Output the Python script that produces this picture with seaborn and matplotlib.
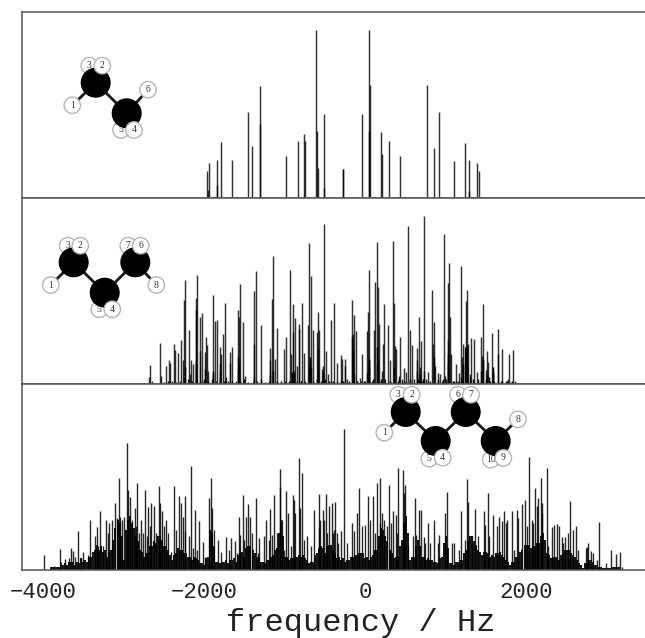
import numpy as np
import pandas as pd
import matplotlib
matplotlib.use("Agg")
import matplotlib.pyplot as plt
import seaborn as sns

# ---- spectrum of the C2 chain (Hz, relative intensity)
c2_freq = [-1962,-1955,-1937,-1842,-1838,-1788,-1656,-1462,-1408,-1313,-1312,-983,-838,-756,-752,-611,-594,-590,-508,-508,-272,-271,-41,50,58,46,194,207,289,434,768,855,909,1103,1239,1285,1290,1384,1409]
c2_int = [16,5,21,22.5,7.5,33.4,22.5,51,31,66.6,44,25,34,38,34,100,40,18,50,6,17.5,17,50,100,67,40,39,26,34,25,67,30,51,22,33,22.5,4,21,16]

# ---- spectrum of the C3 chain
c3_freq = [-2900,-2668,-2681,-2644,-2545,-2532,-2470,-2441,-2429,-2375,-2367,-2321,-2293,-2264,-2251,-2235,-2193,-2181,-2160,-2136,-2107,-2098,-2090,-2053,-2057,-2028,-1987,-1975,-1962,-1950,-1888,-1884,-1867,-1842,-1809,-1801,-1789,-1768,-1739,-1727,-1685,-1673,-1652,-1578,-1578,-1562,-1553,-1524,-1491,-1384,-1376,-1355,-1293,-1186,-1178,-1157,-1144,-1116,-1095,-1012,-983,-934,-921,-897,-893,-872,-847,-826,-818,-781,-756,-711,-694,-682,-670,-653,-603,-583,-570,-587,-541,-525,-517,-488,-467,
-426,-385,-352,-302,-290,-256,-248,-228,-162,-153,-145,-116,-137,-42,-62,24,33,49,41,20,103,123,144,156,165,202,214,227,280,301,342,351,371,384,417,433,483,499,524,549,582,640,636,669,677,693,722,731,776,830,838,850,859,896,921,970,983,1020,1032,1024,1053,1065,1123,1156,1189,1201,1210,1243,1259,1251,1276,1300,1309,1354,1383,1437,1457,1449,1507,1495,1519,1573,1581,1643,1651,1693,1767,1780,1829,1862]
c3_int = [0.8,11.5,4,2,24.4,4.8,10.7,14.5,12.5,24,20,18.6,26,14.5,50,61.6,32.3,6,14,12,51,44,65,40,19.4,42,19,28,23,8,6,52.7,37.5,38,22,12,18,30,48,4,12.5,19,22,44,8,40,59.6,37,5,24,55.6,67,35,14.5,21.4,50.7,76,15,33.5,20.6,28,68,17.6,31,47.7,39,10.5,33,36,48,18.4,35,84,13,64,32,31,43,32,21,9,11,95.4,19.4,6,
38,48,12.5,17,15,15,11,3,50,30,41,31.5,6,18,3.6,31.5,43,67.6,15,6.7,32,61,84.5,57.7,35.5,8,24,47.4,35,14,85,48,22.4,20.6,5,28,9.7,7,94,32,23.4,21.6,14,40,10,25.6,100,8,7,55.7,23.6,37,11,6.5,5.7,89.5,5,60,72,26,40,17.6,12,6.5,70,16,24,49.4,55.7,20,23.6,6,27.6,27,7,28,47.8,16.7,19.4,8.5,13,30.5,8,32.5,17.6,20.6,3,18,20,2]
c3_dense_freq = [-2240,-2105,-2095,-1990,-1890,-1800,-1575,-1565,-1385,-1180,-1145,-915,-890,-700,-690,-680,-590,-530,-160,-155,40,45,140,150,160,350,640,680,850,1020,1028,1190,1210,1240,1250,1258,1265,1440,1460,1510,1580,1590,-2440,-2000,-1740,-1500,-1300,-1050,-800,-600,-420,-280,-100,-20,80,200,300,420,480,560,720,780,900,960,1090,1130,1330,1400,1540,1680,1760,1820]
c3_dense_int = [10,12,14,9,8,7,16,12,4,6,8,7,8,12,16,10,9,7,28,20,14,10,12,22,14,10,8,6,16,18,12,4,12,22,22,22,14,8,14,6,10,6,2,2,2,2,3,2,2,3,2,2,2,2,2,3,2,3,2,3,3,2,3,3,2,2,3,2,4,2,2,2]
c3_base_freq = [-2500,-2450,-2400,-2350,-2300,-2250,-2200,-2150,-2100,-2050,-2000,-1950,-1900,-1850,-1800,-1750,-1700,-1650,-1600,-1550,-1500,-1450,-1400,-1350,-1300,-1250,-1200,-1150,-1100,-1050,-1000,-950,-900,-850,-800,-750,-700,-650,-600,-550,-500,-450,-400,-350,-300,-250,-200,-150,-100,-50,0,50,100,150,200,250,300,350,400,450,500,550,600,650,700,750,800,850,900,950,1000,1050,1100,1150,1200,1250,1300,1350,1400,1450,1500,1550,1600,1650,1700,1750,1800]
c3_base_int = [1,1.5,2,1,2,2,3,2,3,2,3,2,3,2,3,2,2,1.5,2,2,3,1,1,2,1,1,2,1.5,2,1,2,2,3,2,2,2,2,2,3,2,3,1.5,2,2,1.5,2,2,3,2,2,1.5,3,3,2,2,3,2,1.5,2,3,2,2,3,3,2,3,2,3,2,2,3,2,2,2,3,3,4,2,3,2,3,2,2,2,1.5,1.5,1]

# ---- spectrum of the C4 chain
c4_freq = [-3990,-3788,-3722,-3651,-3631,-3569,-3499,-3416,-3329,-3288,-3218,-3176,-3106,-3061,-3044,-2995,-2958,-2916,-2863,-2834,-2788,-2730,-2693,-2660,-2627,-2565,-2520,-2470,-2371,-2309,-2264,-2235,-2160,-2115,-2070,-2020,-1942,-1921,-1826,-1727,-1669,-1619,-1562,-1520,-1483,-1458,-1425,-1355,-1322,-1260,-1227,-1182,-1136,-1062,-1054,-984,-963,-901,-880,-826,-785,-723,-641,-575,-566,-525,-488,-455,-413,-372,
-298,-261,-166,-104,-75,33,91,144,185,206,289,338,375,404,466,495,611,660,689,722,776,846,916,1012,1073,1181,1259,1280,1362,1474,1519,1590,1660,1722,1755,1817,1879,1941,1982,2032,2065,2110,2147,2176,2197,2250,2312,2374,2436,2482,2544,2610,2643,2746,2767,2796,2895,2986,3044,3110,3155,3180]
c4_int = [8.9,12.3,6.3,12.9,11.5,23.4,10.5,29.7,25.3,35,30,27.7,39.6,54.6,31.7,31.7,75.8,43.6,37,52,29.7,47.7,37.6,39.6,38,50,35,29.7,49.7,43.8,31.7,44,61.6,36,29.3,16.8,43,54.6,17.8,19.8,18.8,17.4,31.7,44.7,31.7,39.2,31.7,43,18.8,20.4,30,36.6,44.7,60.4,49.5,47.3,34,44.7,41.6,66.5,58,20,36,45,30,36,45,38,39.6,40.4,
23.4,84,28,33.7,48.7,44,44,52,55,33.7,50.7,35,33,61,59.6,50.5,42.6,35.6,36,19.4,27.7,29.7,20.8,46.7,16,35,53.9,40.6,36.4,35,46,33,31.7,35,29.7,35,36,39,41.6,67,29.7,48.7,42.6,55,39.6,60.6,25.7,27.3,19.8,19.8,41,26,12,13.5,15.8,11.5,28.7,4.4,12,9.5,11,2]
c4_mid_freq = [-3862,-3771,-3676,-3602,-3532,-3441,-3358,-3317,-3251,-3193,-3139,-3086,-3015,-2945,-2891,-2850,-2809,-2755,-2714,-2673,-2602,-2549,-2499,-2449,-2417,-2346,-2293,-2243,-2190,-2140,-2094,-1991,-1908,-1880,-1785,-1694,-1590,-1549,-1500,-1405,-1334,-1198,-1157,-1095,-1033,-1012,-922,-868,-806,-764,-674,-579,-517,-475,-401,-351,
-393,-343,-227,-137,-42,0,62,115,177,227,268,318,392,483,528,590,627,735,805,896,991,1102,1156,1239,1321,1404,1486,1540,1631,1693,1747,1846,1899,2003,2085,2127,2188,2271,2341,2403,2457,2511,2581,2697,2738,2829,2870]
c4_mid_int = [2.4,5,7,8,7,9,20,14,14,22,30,31,30,47.5,30,26,22,22,20,26,22,40,26,22,11,24,40,23,20,13,12,8,37,24,11,12,10,21,18,22,10,18,21,22,30,12,14,34,37,18,14,25,30,22,22,22,
24,16,16,23,26,27,30,22,28,30,26,28,22,46,15,20,21,16,16,16,34,16,12,18,20,20,27,20,26,29,28,12,31,26,28,38,34,14,27,26,16,22,24,1,13,10,6]
c4_grass_freq = [-3900,-3850,-3800,-3750,-3700,-3650,-3600,-3550,-3500,-3450,-3400,-3350,-3300,-3250,-3200,-3150,-3100,-3050,-3000,-2950,-2900,-2850,-2800,-2750,-2700,-2650,-2600,-2550,-2500,-2450,-2400,-2350,-2300,-2250,-2200,-2150,-2100,-2050,-2000,-1950,-1900,-1850,-1800,-1750,-1700,-1650,-1600,-1550,-1500,-1450,-1400,-1350,-1300,-1250,-1200,-1150,-1100,-1050,-1000,-950,-900,-850,-800,-750,-700,-650,-600,-550,-500,-450,-400,-350,-300,-250,-200,-150,-100,-50,0,50,100,150,200,250,300,350,400,450,500,550,600,650,700,750,800,850,900,950,1000,1050,1100,1150,1200,1250,1300,1350,1400,1450,1500,1550,1600,1650,1700,1750,1800,1850,1900,1950,2000,2050,2100,2150,2200,2250,2300,2350,2400,2450,2500,2550,2600,2650,2700,2750,2800,2850,2900,2950,3000,3050,3100,3150]
c4_grass_int = [1.5,1.5,2,3,3,5,3,4,5,5,8,12,12,11,8,12,25,28,6,30,28,20,12,8,10,14,16,20,14,12,6,10,12,10,8,6,7,4,3,8,22,5,4,5,4,6,5,10,8,14,12,8,5,4,6,9,13,30,8,6,7,8,8,7,4,5,10,14,10,15,12,7,6,5,6,8,9,10,7,6,9,12,25,20,12,7,8,18,32,6,8,18,8,6,6,5,4,8,20,4,3,5,6,12,20,17,12,9,11,8,8,10,9,6,3,5,8,12,15,13,14,16,22,10,7,8,6,10,12,10,8,4,1,5,6,3,2,1,1,1,2,2]
c4_fine_freq = [-3875,-3825,-3775,-3725,-3675,-3625,-3575,-3525,-3475,-3425,-3375,-3325,-3275,-3225,-3175,-3125,-3075,-3025,-2975,-2925,-2875,-2825,-2775,-2725,-2675,-2625,-2575,-2525,-2475,-2425,-2375,-2325,-2275,-2225,-2175,-2125,-2075,-2025,-1975,-1925,-1875,-1825,-1775,-1725,-1675,-1625,-1575,-1525,-1475,-1425,-1375,-1325,-1275,-1225,-1175,-1125,-1075,-1025,-975,-925,-875,-825,-775,-725,-675,-625,-575,-525,-475,-425,-375,-325,-275,-225,-175,-125,-75,-25,25,75,125,175,225,275,325,375,425,475,525,575,625,675,725,775,825,875,925,975,1025,1075,1125,1175,1225,1275,1325,1375,1425,1475,1525,1575,1625,1675,1725,1775,1825,1875,1925,1975,2025,2075,2125,2175,2225,2275,2325,2375,2425,2475,2525,2575,2625,2675,2725,2775,2825,2875,2925,2975,3025,3075,3125]
c4_fine_int = [2,2,3,4,5,5,5,7,6,8,11,15,14,12,11,18,30,20,24,32,25,17,11,10,14,17,20,18,14,9,9,13,12,10,8,8,6,4,7,24,14,5,5,6,6,7,9,11,13,14,10,7,5,6,8,12,22,20,8,7,8,9,9,6,5,9,13,13,14,15,10,8,7,6,8,9,10,10,8,8,12,20,24,17,10,8,14,28,22,8,14,14,8,7,6,5,7,16,13,4,5,6,10,17,20,15,11,11,10,9,10,11,8,5,5,8,11,15,15,14,16,20,18,9,8,8,9,12,12,9,6,3,4,6,5,3,2,1,1,2,2]

tick_vals = [-4000, -2000, 0, 2000]
tick_labels = ["\u22124000", "\u22122000", "0", "2000"]
x_title = "frequency / Hz"

# ---- molecule sketches (carbon, hydrogen label)
mol1_c = [(95.7,82.7),(126.7,113.3)]
mol1_h = [("3",89.3,65.7,0),("2",102.3,65.7,1),("1",72.3,105.3,0),("6",148,89.7,1),("5",121,130,0),("4",134,130,1)]
mol2_c = [(73.7,262.3),(104.7,292.7),(135.3,262.3)]
mol2_h = [("3",67.7,245.7,0),("2",80.3,245.7,1),("1",50.7,285,0),("7",128.3,245.7,0),("6",140.7,245.7,1),("8",156.3,285,1),("5",99.3,309.3,0),("4",112.3,309.3,1)]
mol3_c = [(405.7,412),(435.7,441),(465.7,412),(495.7,441)]
mol3_h = [("3",398.3,394.7,0),("2",411.7,394.7,1),("1",384.3,432.7,0),("6",458,394.7,0),("7",471,394.7,1),("8",518,419.3,1),("5",429.3,458.7,0),("4",442.7,457.7,1),("10",490.7,459.7,0),("9",503.3,458,1)]
mol_parent = [[0,0,0,1,1,1],[0,0,0,2,2,2,1,1],[0,0,0,2,2,3,1,1,3,3]]

sns.set_theme(style="white", rc={"axes.edgecolor":"#555555","axes.linewidth":1.1})
plt.rcParams["font.family"] = ["Liberation Mono","DejaVu Sans Mono"]

fig, axes = plt.subplots(3,1,sharex=True,figsize=(6.45,6.38),dpi=100,
                         gridspec_kw=dict(hspace=0,left=22/645,right=1.0,top=1-12/638,bottom=1-570/638))

def sticks(ax,freq,inten,lw,alpha=0.72,color="black"):
    n=len(freq)
    df=pd.DataFrame({"id":np.repeat(np.arange(n),2),
                     "freq":np.repeat(np.asarray(freq,float),2),
                     "intensity":np.column_stack([np.zeros(n),np.asarray(inten,float)]).ravel()})
    sns.lineplot(data=df,x="freq",y="intensity",units="id",estimator=None,ax=ax,
                 color=color,lw=lw,alpha=alpha,legend=False,sort=False,solid_capstyle="butt")

sticks(axes[0],c2_freq,c2_int,1.05,alpha=0.8)
sticks(axes[1],c3_base_freq,c3_base_int,1.0,alpha=0.9)
sticks(axes[1],c3_dense_freq,c3_dense_int,1.05,alpha=1)
sticks(axes[1],c3_freq,c3_int,1.05,alpha=0.8)
sticks(axes[2],c4_grass_freq,c4_grass_int,1.3,alpha=1)
sticks(axes[2],c4_fine_freq,c4_fine_int,1.3,alpha=1)
sticks(axes[2],c4_mid_freq,c4_mid_int,0.95,alpha=0.85)
sticks(axes[2],c4_freq,c4_int,1.0,alpha=0.85)

for ax in axes:
    ax.set_xlim(-4260,3470)
    ax.set_ylim(0,110.7)
    ax.set_yticks([])
    ax.set_ylabel("")
    sns.despine(ax=ax,right=True,top=False)
axes[2].set_xticks(tick_vals)
axes[2].set_xticklabels(tick_labels,fontsize=16,color="#222222")
axes[2].tick_params(axis="x",length=0,pad=9)
axes[2].set_xlabel(x_title,fontsize=23,color="#222222")
axes[2].xaxis.set_label_coords((361-22)/623,-0.205)

# overlay in picture coordinates for the molecule sketches
ov=fig.add_axes([0,0,1,1],zorder=5)
ov.set_xlim(0,645); ov.set_ylim(638,0); ov.axis("off"); ov.patch.set_alpha(0)
def draw(cs,hs,par):
    for i in range(len(cs)-1):
        ov.plot([cs[i][0],cs[i+1][0]],[cs[i][1],cs[i+1][1]],color="k",lw=2.0,zorder=1)
    for (lab,x,y,front),p in zip(hs,par):
        ov.plot([x,cs[p][0]],[y,cs[p][1]],color="k",lw=2.0,zorder=1)
        z=5 if front else 1.5
        ov.add_patch(plt.Circle((x,y),8.2,fc="white",ec="#b5b5b5",lw=1.0,zorder=z))
        ov.text(x,y,lab,ha="center",va="center",fontsize=7,family=["Liberation Serif"],color="#333333",zorder=z+0.1)
    for x,y in cs:
        ov.add_patch(plt.Circle((x,y),14.3,fc="black",ec="black",zorder=3))
draw(mol1_c,mol1_h,mol_parent[0])
draw(mol2_c,mol2_h,mol_parent[1])
draw(mol3_c,mol3_h,mol_parent[2])

fig.savefig("out.png",dpi=100)
